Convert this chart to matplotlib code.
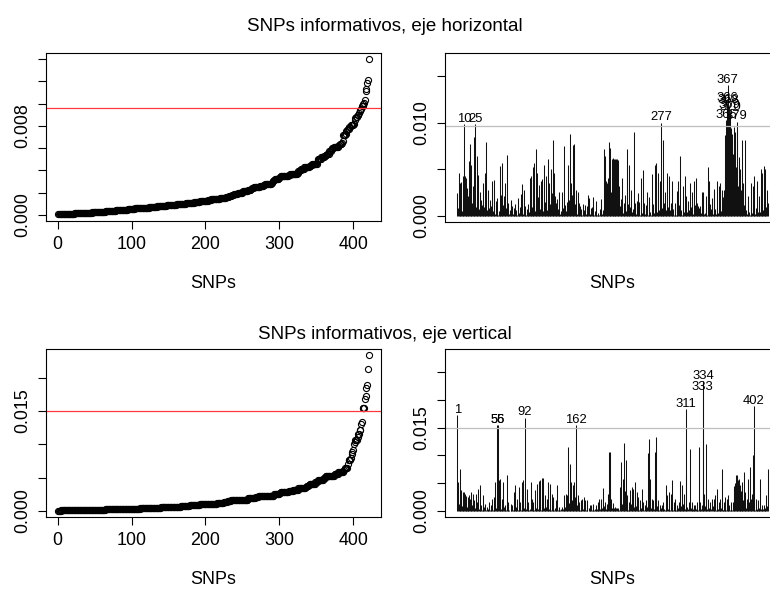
# import
import numpy as np
import matplotlib.pyplot as plt

plt.rcParams['font.family'] = ['Liberation Sans', 'DejaVu Sans']

# informative value of every SNP (units of 1e-4), in SNP order
horiz = [24, 8.3, 46, 12.4, 35, 36, 5.2, 43, 18, 98,
         43, 15, 40, 30, 6.4, 21, 59, 77, 10.5, 55,
         14, 32, 85, 26, 98, 9.1, 64, 20, 44, 7.3,
         25, 4.1, 17, 11.2, 3.3, 35, 9.6, 46, 13, 79,
         6.2, 2.4, 28, 8.8, 17, 3.6, 10.4, 37, 5.5, 38,
         28, 2.1, 16, 7.4, 19, 1.2, 4.6, 53, 9.3, 22,
         57, 6.6, 11.3, 21, 2.7, 35, 8.1, 65, 3.9, 14,
         1.4, 5.8, 15, 16.5, 10.2, 1.7, 7.8, 0.6, 12.1, 2.0,
         6.1, 1.1, 19.5, 0.4, 3.1, 9.4, 23, 4.3, 34, 1.9,
         28, 3.7, 10.8, 1.3, 6.9, 6.3, 12.5, 4.4, 41, 8.6,
         43, 9.4, 52, 39, 57, 5.4, 72, 12.2, 46, 20,
         3.2, 33, 7.1, 37, 11.4, 39, 4.8, 54, 15, 8.2,
         43, 6.7, 61, 19, 35, 2.8, 13, 50, 24, 81,
         9.2, 46, 21, 4.2, 14, 17.5, 7.2, 3.2, 26, 1.6,
         5.1, 2.3, 25, 8.5, 1.0, 75, 11.1, 4.7, 15, 6.5,
         55, 17, 88, 9.8, 35, 22, 76, 3.5, 77, 12.3,
         6.8, 28, 1.8, 26, 8.7, 13.8, 10.1, 0.3, 7.6, 1.25,
         13, 0.7, 6.0, 11.9, 1.35, 10.3, 0.45, 22, 19, 1.45,
         0.55, 8.0, 9.9, 20, 1.15, 0.65, 5.3, 15.5, 1.05, 0.35,
         3.15, 1.55, 0.75, 7.0, 18.5, 10.6, 1.65, 6.2, 72, 9.0,
         64, 37, 35, 27, 40, 79, 31, 73, 26, 61,
         30, 62, 61, 61, 60, 61, 61, 60, 25, 32,
         10.7, 18, 6.05, 41, 3.25, 8.15, 14, 22, 5.6, 52,
         72, 12.6, 55, 2.45, 9.5, 28, 4.35, 1.75, 7.5, 90,
         8.9, 14, 1.85, 16, 5.7, 24, 15, 0.8, 4.5, 41,
         2.65, 49, 6.15, 14, 1.95, 11.3, 8.25, 25, 0.85, 20.5,
         15, 4.15, 1.1, 45, 6.25, 12.7, 2.85, 54, 9.7, 57,
         3.65, 36, 46, 5.9, 37, 12.8, 100, 8.35, 81, 2.95,
         14, 25, 1.0, 6.35, 46, 9.9, 3.75, 43, 5.65, 14,
         2.2, 37, 7.6, 1.2, 14, 10.5, 0.9, 16, 27, 37,
         11.7, 2.1, 64, 6.45, 1.3, 32, 8.45, 4.55, 43, 10.9,
         21, 3.95, 16, 0.95, 5.75, 35, 9.55, 2.3, 25, 1.4,
         37, 4.45, 11.8, 41, 13.2, 0.6, 10.95, 8.8, 1.5, 10.0,
         2.5, 26, 6.55, 25, 1.6, 3.3, 21, 8.55, 0.5, 52,
         4.65, 37, 12.1, 2.6, 6.75, 19, 1.7, 29, 25, 7.15,
         1.8, 37, 9.15, 2.7, 32, 14, 35, 5.15, 28, 20,
         8, 28, 45, 87, 103, 121, 140, 119, 113, 111,
         92, 94, 88, 66, 82, 95, 90, 52, 101, 93,
         32, 63, 50, 44, 28, 20, 81, 35, 12, 81,
         35, 6.05, 2.2, 15, 21, 4.2, 1.3, 35, 9.1, 3.4,
         32, 5.2, 43, 2.3, 8.1, 37, 1.1, 4.4, 21, 10.3,
         3.6, 50, 12.3, 46, 6.4, 53, 2.6, 50, 9.3, 28, 14]

vert = [172, 52, 12, 76, 20, 37, 9, 34, 15, 34,
        31, 8.2, 27, 6.3, 25, 4.4, 28, 22, 3.1, 34,
        10.4, 31, 2.2, 19, 5.3, 31, 1.2, 16, 39, 4.1,
        46, 3.3, 10.2, 1.4, 2.6, 28, 6.1, 13, 0.5, 2.1,
        7.2, 1.1, 3.4, 16, 0.6, 10.6, 2.3, 22, 1.3, 5.1,
        25, 52, 4.2, 12, 155, 154, 55, 9.3, 58, 3.2,
        22, 1.5, 52, 6.4, 10.1, 2.4, 0.7, 64, 3.5, 16,
        1.6, 0.4, 13, 2.5, 10.3, 1.7, 34, 5.2, 46, 2.7,
        7.3, 22, 1.8, 43, 3.6, 16, 0.8, 52, 8.4, 55,
        4.3, 168, 25, 2.8, 40, 6.2, 16, 1.9, 3.7, 0.3,
        52, 22, 2.9, 16, 1.0, 37, 5.4, 0.9, 49, 3.8,
        53, 8.1, 55, 2.0, 59, 12, 60, 4.5, 1.1, 28,
        6.5, 22, 0.6, 52, 3.9, 10.7, 49, 2.2, 31, 25,
        22, 1.2, 4.6, 19, 0.7, 46, 2.3, 5.5, 7.4, 1.3,
        3.0, 7.5, 0.4, 2.4, 28, 1.4, 6.6, 31, 12, 28,
        115, 14, 85, 30, 52, 20, 46, 9.2, 52, 25,
        34, 155, 10.8, 28, 3.1, 16, 1.5, 19, 5.6, 22,
        2.5, 25, 8.3, 19, 1.6, 19, 13, 0.5, 4.7, 10.9,
        2.6, 10.5, 0.8, 5.7, 13, 1.7, 3.2, 10.4, 0.6, 2.7,
        16, 1.8, 22, 3.3, 22, 0.9, 5.8, 41, 2.8, 8.5,
        16, 3.4, 13, 1.9, 30, 107, 106, 9.4, 22, 4.8,
        14, 1.0, 5.0, 5.2, 6.0, 5.1, 4.3, 5.3, 2.9, 0.7,
        43, 6.7, 88, 12, 58, 20, 122, 35, 91, 28,
        4.4, 1.1, 16, 8.6, 37, 12, 43, 2.0, 40, 7.6,
        36, 52, 9.5, 34, 3.5, 25, 1.2, 19, 5.9, 2.1,
        40, 16, 0.5, 2.2, 10.6, 1.3, 19, 6.8, 104, 14,
        130, 58, 5.4, 22, 1.4, 19, 3.6, 28, 106, 133,
        8.7, 19, 0.6, 2.3, 11, 1.5, 4.9, 10.2, 0.8, 16,
        3.7, 1.6, 46, 6.9, 28, 2.4, 34, 9.6, 0.9, 31,
        56, 4.5, 1.7, 16, 3.8, 22, 0.7, 10.3, 2.5, 5.5,
        16, 2.6, 53, 8.8, 46, 1.8, 12, 31, 3.9, 64,
        184, 7.7, 2.7, 16, 0.4, 111, 5.6, 16, 1.9, 3.1,
        10.1, 0.8, 11, 2.8, 16, 4.6, 1.0, 115, 6.3, 16,
        3.2, 10.4, 214, 234, 30, 8.9, 121, 40, 2.9, 22,
        5.7, 1.1, 16, 3.3, 0.5, 22, 7.8, 22, 2.0, 29,
        1.2, 9.7, 40, 3.4, 16, 0.6, 22, 4.7, 76, 2.1,
        1.3, 16, 5.8, 25, 0.9, 22, 2.2, 28, 9.8, 1.4,
        16, 3.5, 0.7, 16, 40, 45, 50, 64, 62, 64,
        55, 58, 30, 46, 35, 52, 40, 20, 70, 10,
        34, 5.9, 22, 58, 2.3, 15, 79, 6.4, 22, 30,
        100, 189, 9.9, 1.5, 22, 3.6, 0.8, 19, 4.8, 2.4,
        58, 2.5, 10.9, 0.6, 3.7, 10.5, 1.6, 5.4, 28, 8.2, 76]

# cut-off lines
horiz_cut = 0.0096
vert_cut = 0.015

titles = ["SNPs informativos, eje horizontal", "SNPs informativos, eje vertical"]
xticks_left = [0, 100, 200, 300, 400]
# y ticks and the ones that carry a label (R drops the overlapping ones)
yticks = [([0, 0.002, 0.004, 0.006, 0.008, 0.010, 0.012, 0.014], [0.0, 0.008]),
          ([0, 0.005, 0.010, 0.015], [0.0, 0.010]),
          ([0, 0.005, 0.010, 0.015, 0.020], [0.0, 0.015]),
          ([0, 0.005, 0.010, 0.015, 0.020, 0.025], [0.0, 0.015])]

W, H = 770, 589
fig = plt.figure(figsize=(W / 100, H / 100), dpi=100)

# axes boxes in pixels: left, top, width, height (right column runs off the page)
boxes = [(46, 53, 335, 168), (445, 53, 335, 169),
         (46, 349, 335, 168), (445, 349, 335, 168)]
axs = [fig.add_axes([l / W, 1 - (t + h) / H, w / W, h / H]) for l, t, w, h in boxes]


def r_style(ax, ticks, labelled, h):
    for s in ax.spines.values():
        s.set_linewidth(0.8)
    ax.tick_params(direction='out', length=5.5, width=0.8, labelsize=12.9, pad=5)
    ax.set_yticks(ticks)
    ax.set_yticklabels(["%.3f" % t if any(abs(t - l) < 1e-9 for l in labelled) else ""
                        for t in ticks], rotation=90, va='center')
    ax.set_xlabel("SNPs", fontsize=12.9, va='center')
    # same distance below the box in every panel, tick labels or not
    ax.xaxis.set_label_coords(0.5, -62 / h)


for row, (data, cut) in enumerate([(horiz, horiz_cut), (vert, vert_cut)]):
    values = np.array(data) * 1e-4
    n = len(values)
    snp = np.arange(1, n + 1)
    pad_x = 0.04 * (n - 1)

    # sorted values
    ax = axs[2 * row]
    ax.plot(snp, np.sort(values), 'o', mfc='none', mec='black', ms=4.4, mew=0.8)
    ax.axhline(cut, color='#ff3a3a', lw=0.9)
    ax.set_xlim(1 - pad_x, n + pad_x)
    ax.set_ylim(-0.04 * values.max(), 1.04 * values.max())
    ax.set_xticks(xticks_left)
    r_style(ax, *yticks[2 * row], boxes[2 * row][3])

    # values in SNP order, type "h"
    ax = axs[2 * row + 1]
    ax.vlines(snp, 0, values, color='#111111', lw=0.75)
    ax.axhline(cut, color='#bebebe', lw=0.9)
    top = 1.2 * values.max()
    ax.set_xlim(1 - pad_x, n + pad_x)
    ax.set_ylim(-0.04 * top, 1.04 * top)
    ax.set_xticks([])
    r_style(ax, *yticks[2 * row + 1], boxes[2 * row + 1][3])
    for i in np.where(values > cut)[0]:
        ax.annotate(str(i + 1), (snp[i], values[i]), xytext=(0, 3.8),
                    textcoords='offset points', ha='center', va='center', fontsize=9.4)

fig.text(0.5, 1 - 31 / H, titles[0], ha='center', va='baseline', fontsize=13.5)
fig.text(0.5, 1 - 339 / H, titles[1], ha='center', va='baseline', fontsize=13.5)

plt.savefig("out.png", dpi=100)
